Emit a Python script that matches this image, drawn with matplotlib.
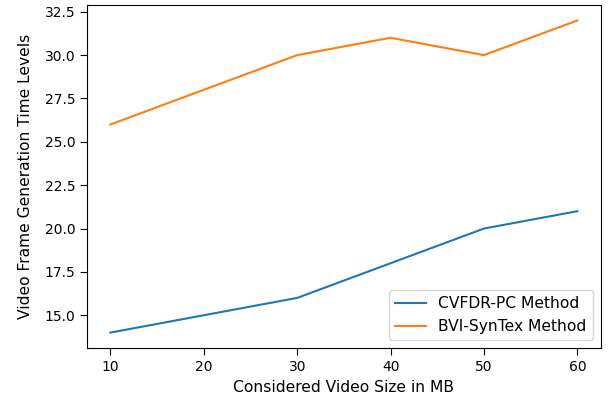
import matplotlib.pyplot as plt

# video sizes in MB and generation time levels per method
sizes = [10, 20, 30, 40, 50, 60]
cvfdr_pc = [14, 15, 16, 18, 20, 21]
bvi_syntex = [26, 28, 30, 31, 30, 32]

fig, ax = plt.subplots(figsize=(6.13, 4.03), dpi=100)
fig.subplots_adjust(left=0.142, right=0.980, top=0.988, bottom=0.136)

ax.plot(sizes, cvfdr_pc, label="CVFDR-PC Method")
ax.plot(sizes, bvi_syntex, label="BVI-SynTex Method")

ax.tick_params(length=5)
ax.set_xlabel("Considered Video Size in MB", fontsize=11.2)
ax.set_ylabel("Video Frame Generation Time Levels", fontsize=11.2, labelpad=8)
ax.legend(loc="lower right", fontsize=11.2)

plt.savefig("out.png", dpi=100)
